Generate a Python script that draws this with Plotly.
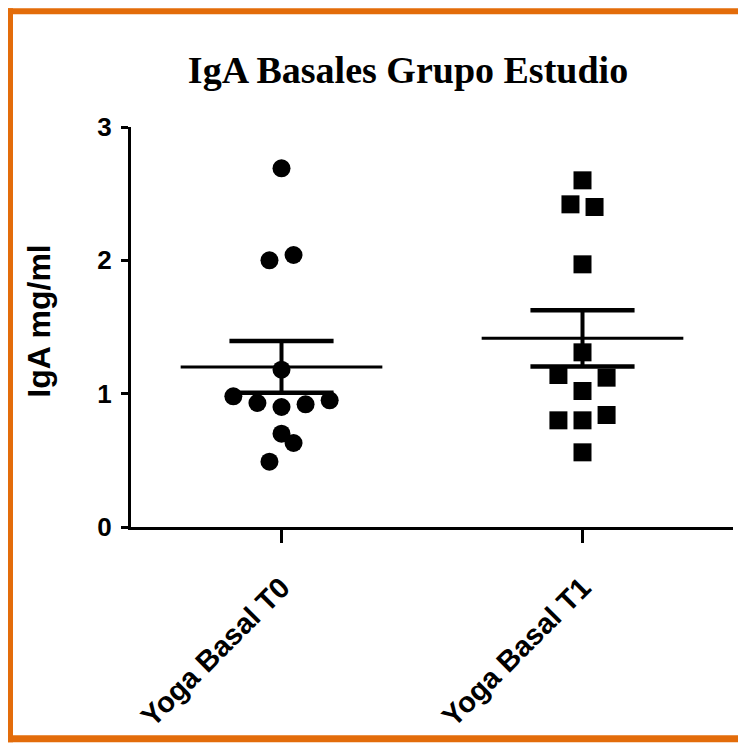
import numpy as np
import plotly.graph_objects as go

# ---- data ----
categories = ["Yoga Basal T0", "Yoga Basal T1"]
t0_values = [2.69, 2.04, 2.00, 1.18, 0.98, 0.93, 0.90, 0.92, 0.95, 0.70, 0.63, 0.49]
t0_jitter = [0, 0.04, -0.04, 0, -0.16, -0.08, 0, 0.08, 0.16, 0, 0.04, -0.04]
t1_values = [2.60, 2.42, 2.40, 1.97, 1.31, 1.14, 1.12, 1.02, 0.80, 0.80, 0.84, 0.56]
t1_jitter = [0, -0.04, 0.04, 0, 0, -0.08, 0.08, 0, -0.08, 0, 0.08, 0]
y_ticks = [0, 1, 2, 3]
title_text = "IgA Basales Grupo Estudio"
y_title = "IgA mg/ml"

# The page body adds an 8px offset; the figure is sized to fit the window.
OFF = 8
W, H = 746 - OFF, 743 - OFF
ML, MR, MT, MB = 131 - OFF, 13, 127 - OFF, 743 - 527.5
PW, PH = W - ML - MR, H - MT - MB

groups = [(t0_values, t0_jitter, "circle"), (t1_values, t1_jitter, "square")]

fig = go.Figure()
for i, (vals, jit, sym) in enumerate(groups):
    xs = [i + j for j in jit]
    fig.add_trace(go.Scatter(x=xs, y=vals, mode="markers",
                             marker=dict(symbol=sym, size=18, color="black",
                                         line=dict(width=0)),
                             showlegend=False, hoverinfo="y"))

for i, (vals, jit, sym) in enumerate(groups):
    arr = np.array(vals)
    m = arr.mean()
    sem = arr.std(ddof=1) / np.sqrt(len(arr))
    fig.add_trace(go.Scatter(x=[i - 0.335, i + 0.335], y=[m, m], mode="lines",
                             line=dict(color="black", width=3), showlegend=False,
                             hoverinfo="skip"))
    for yy in (m - sem, m + sem):
        fig.add_trace(go.Scatter(x=[i - 0.173, i + 0.173], y=[yy, yy], mode="lines",
                                 line=dict(color="black", width=4.5), showlegend=False,
                                 hoverinfo="skip"))
    fig.add_trace(go.Scatter(x=[i, i], y=[m - sem, m + sem], mode="lines",
                             line=dict(color="black", width=4), showlegend=False,
                             hoverinfo="skip"))

# convert reference-window pixel positions to paper coordinates
def px_x(p):
    return (p - OFF - ML) / PW

def px_y(p):
    return (H - MB - (p - OFF)) / PH

orange = "#E36C0A"
shapes = [
    dict(type="rect", xref="paper", yref="paper", x0=px_x(8), x1=px_x(746),
         y0=px_y(8), y1=px_y(14), fillcolor=orange, line=dict(width=0), layer="below"),
    dict(type="rect", xref="paper", yref="paper", x0=px_x(8), x1=px_x(13),
         y0=px_y(8), y1=px_y(743), fillcolor=orange, line=dict(width=0), layer="below"),
    dict(type="rect", xref="paper", yref="paper", x0=px_x(8), x1=px_x(746),
         y0=px_y(736), y1=px_y(743), fillcolor=orange, line=dict(width=0), layer="below"),
]

fig.update_layout(
    width=W, height=H,
    margin=dict(l=ML, r=MR, t=MT, b=MB, autoexpand=False),
    paper_bgcolor="white", plot_bgcolor="white",
    title=dict(text=title_text, x=(408 - OFF) / W, xanchor="center", y=1 - (70 - OFF) / H,
               yanchor="middle",
               font=dict(family="Liberation Serif, Times New Roman, serif", size=38,
                         color="black", weight="bold")),
    shapes=shapes,
    annotations=[dict(text=y_title, xref="paper", yref="paper", x=px_x(39), y=px_y(322),
                      xanchor="center", yanchor="middle", textangle=-90, showarrow=False,
                      font=dict(family="Liberation Sans, Arial, sans-serif", size=32,
                                color="black", weight="bold"))],
)

fig.update_xaxes(range=[-0.5, 1.5], tickmode="array", tickvals=[0, 1], ticktext=categories,
                 tickangle=-45, showline=True, linecolor="black", linewidth=3,
                 ticks="outside", ticklen=13, tickwidth=3, tickcolor="black",
                 ticklabelstandoff=16,
                 showgrid=False, zeroline=False,
                 tickfont=dict(family="Liberation Sans, Arial, sans-serif", size=29,
                               color="black", weight="bold"))
fig.update_yaxes(range=[0, 3], tickmode="array", tickvals=y_ticks,
                 ticktext=[str(v) for v in y_ticks],
                 showline=True, linecolor="black", linewidth=3,
                 ticks="outside", ticklen=7, tickwidth=3, tickcolor="black",
                 ticklabelstandoff=4,
                 showgrid=False, zeroline=False,
                 tickfont=dict(family="Liberation Sans, Arial, sans-serif", size=26,
                               color="black", weight="bold"))

fig.write_html("out.html")
